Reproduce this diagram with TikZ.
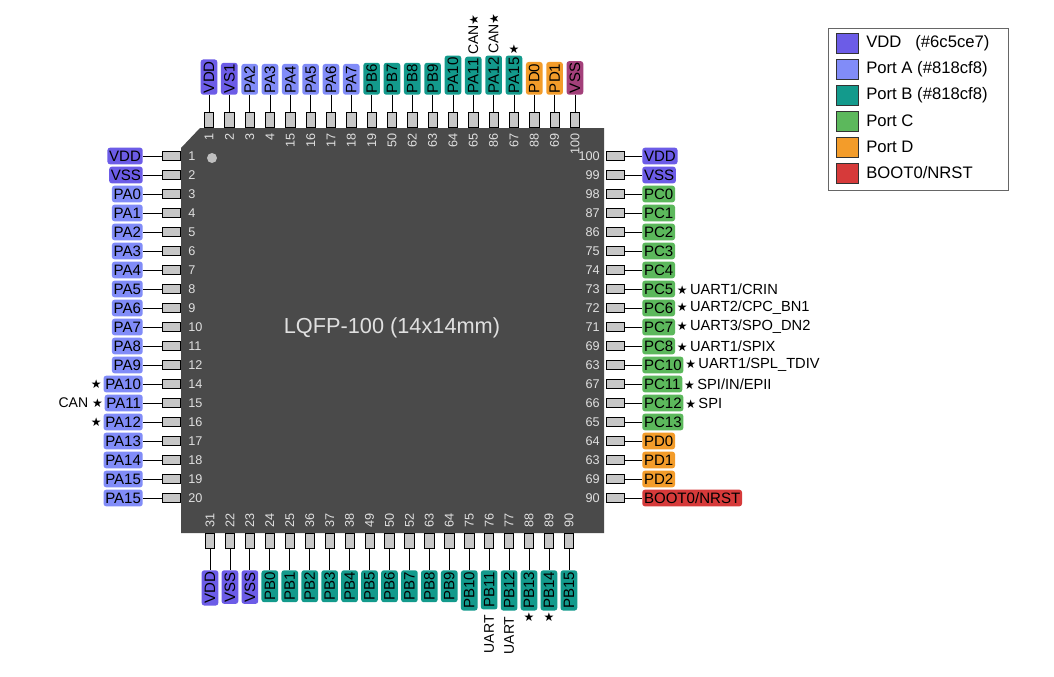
\documentclass[tikz,border=0pt]{standalone}
\usepackage{fontspec}
\setmainfont{Liberation Sans}
\newfontfamily\symf{DejaVu Sans}
\definecolor{cvdd}{HTML}{6C5CE7}
\definecolor{cpa}{HTML}{818CF8}
\definecolor{cpb}{HTML}{139A8C}
\definecolor{cpc}{HTML}{5CB85C}
\definecolor{cpd}{HTML}{F39C2A}
\definecolor{cboot}{HTML}{D63A3A}
\definecolor{cvss}{HTML}{A3407A}
\definecolor{chip}{HTML}{4A4A4A}
\newcommand{\st}{{\symf\small ★}}
\begin{document}
\begin{tikzpicture}[x=0.75pt,y=-0.75pt,
  lab/.style={rounded corners=2pt,inner sep=1.3pt,minimum height=12.5pt,font=\fontsize{11.3}{12}\selectfont,text=black},
  pin/.style={draw=black,line width=0.5pt,fill=black!22,inner sep=0pt,minimum width=13.5pt,minimum height=7pt},
  vpin/.style={pin,minimum width=7pt,minimum height=11pt},
  num/.style={font=\fontsize{9.5}{10}\selectfont,text=black!12,inner sep=0pt},
  ann/.style={font=\fontsize{10.5}{11}\selectfont,inner sep=1pt},
  wire/.style={draw=black,line width=0.6pt}]
\useasboundingbox (0,0) rectangle (1054,676);
\fill[white] (0,0) rectangle (1054,676);
% chip
\fill[chip] (181,148) -- (200,128) -- (604,128) -- (604,533) -- (181,533) -- cycle;
\fill[black!25] (212,158) circle (5);
\node[font=\fontsize{16.3}{18}\selectfont,text=black!12] (title) at (392,328) {LQFP-100 (14x14mm)};
% left
\foreach \t/\c/\n [count=\i from 0] in {VDD/cvdd/1,VSS/cvdd/2,PA0/cpa/3,PA1/cpa/4,PA2/cpa/5,PA3/cpa/6,PA4/cpa/7,PA5/cpa/8,PA6/cpa/9,PA7/cpa/10,PA8/cpa/11,PA9/cpa/12,PA10/cpa/14,PA11/cpa/15,PA12/cpa/16,PA13/cpa/17,PA14/cpa/18,PA15/cpa/19,PA15/cpa/20}{
  \pgfmathsetmacro\yy{156+19*\i}
  \node[pin] (lp\i) at (171,\yy) {};
  \node[lab,fill=\c,anchor=east] (ll\i) at (143,\yy) {\t};
  \draw[wire] (ll\i.east) -- (lp\i.west);
  \node[num,anchor=west] (ln\i) at (188,\yy) {\n};
}
\node[ann,anchor=east] (la12) at (ll12.west) {\st};
\node[ann,anchor=east] (la13) at (ll13.west) {CAN \st};
\node[ann,anchor=east] (la14) at (ll14.west) {\st};
% right
\foreach \t/\c/\n [count=\i from 0] in {VDD/cvdd/100,VSS/cvdd/99,PC0/cpc/98,PC1/cpc/87,PC2/cpc/86,PC3/cpc/75,PC4/cpc/74,PC5/cpc/73,PC6/cpc/72,PC7/cpc/71,PC8/cpc/69,PC10/cpc/63,PC11/cpc/67,PC12/cpc/66,PC13/cpc/65,PD0/cpd/64,PD1/cpd/63,PD2/cpd/69,BOOT0\slash NRST/cboot/90}{
  \pgfmathsetmacro\yy{156+19*\i}
  \node[pin] (rp\i) at (615,\yy) {};
  \node[lab,fill=\c,anchor=west] (rl\i) at (642,\yy) {\t};
  \draw[wire] (rp\i.east) -- (rl\i.west);
  \node[num,anchor=east] (rn\i) at (600,\yy) {\n};
}
\foreach \i/\a in {7/UART1\slash CRIN,8/UART2\slash CPC\_BN1,9/UART3\slash SPO\_DN2,10/UART1\slash SPIX,11/UART1\slash SPL\_TDIV,12/SPI\slash IN\slash EPII,13/SPI}{
  \node[ann,anchor=west,font=\fontsize{11}{12}\selectfont] (ra\i) at (rl\i.east) {\st\,\a};
}
% top
\foreach \t/\c/\n [count=\i from 0] in {VDD/cvdd/1,VS1/cvdd/2,PA2/cpa/3,PA3/cpa/4,PA4/cpa/15,PA5/cpa/16,PA6/cpa/17,PA7/cpa/18,PB6/cpb/19,PB7/cpb/50,PB8/cpb/62,PB9/cpb/63,PA10/cpb/64,PA11/cpb/65,PA12/cpb/86,PA15/cpb/67,PD0/cpd/88,PD1/cpd/69,VSS/cvss/100}{
  \pgfmathsetmacro\xx{209+20.33*\i}
  \node[vpin] (tp\i) at (\xx,120) {};
  \node[lab,fill=\c,rotate=90,anchor=west] (tl\i) at (\xx,95) {\t};
  \draw[wire] (tl\i.west) -- (tp\i.north);
  \node[num,rotate=90,anchor=east] (tn\i) at (\xx,133) {\n};
}
\node[ann,rotate=90,anchor=west] (ta13) at (tl13.east) {CAN\st};
\node[ann,rotate=90,anchor=west] (ta14) at (tl14.east) {CAN\st};
\node[ann,anchor=south] (ta15) at (tl15.east) {\st};
% bottom
\foreach \t/\c/\n [count=\i from 0] in {VDD/cvdd/31,VSS/cvdd/22,VSS/cvdd/23,PB0/cpb/24,PB1/cpb/25,PB2/cpb/36,PB3/cpb/37,PB4/cpb/38,PB5/cpb/49,PB6/cpb/50,PB7/cpb/52,PB8/cpb/63,PB9/cpb/64,PB10/cpb/75,PB11/cpb/76,PB12/cpb/77,PB13/cpb/88,PB14/cpb/89,PB15/cpb/90}{
  \pgfmathsetmacro\xx{210+19.94*\i}
  \node[vpin] (bp\i) at (\xx,541) {};
  \node[lab,fill=\c,rotate=90,anchor=east] (bl\i) at (\xx,570) {\t};
  \draw[wire] (bp\i.south) -- (bl\i.east);
  \node[num,rotate=90,anchor=west] (bn\i) at (\xx,528) {\n};
}
\node[ann,rotate=90,anchor=east] (ba14) at ([yshift=-3pt]bl14.west) {UART};
\node[ann,rotate=90,anchor=east] (ba15) at ([yshift=-3pt]bl15.west) {UART};
\node[ann,anchor=north] (ba16) at (bl16.west) {\st};
\node[ann,anchor=north] (ba17) at (bl17.west) {\st};
% legend
\node[draw=black!60,line width=0.6pt,minimum width=135pt,minimum height=121.5pt,inner sep=0pt] (leg) at (918,109) {};
\foreach \c/\t [count=\i from 0] in {cvdd/{VDD\ \ \ (\#6c5ce7)},cpa/{Port A (\#818cf8)},cpb/{Port B (\#818cf8)},cpc/Port C,cpd/Port D,cboot/BOOT0\slash NRST}{
  \pgfmathsetmacro\yy{43+26*\i}
  \node[draw=black!80,fill=\c,minimum width=16.5pt,minimum height=15pt,inner sep=0pt] (sw\i) at (847,\yy) {};
  \node[anchor=west,font=\fontsize{12.5}{14}\selectfont,inner sep=0pt] (lt\i) at (866,\yy) {\t};
}
\end{tikzpicture}
\end{document}
